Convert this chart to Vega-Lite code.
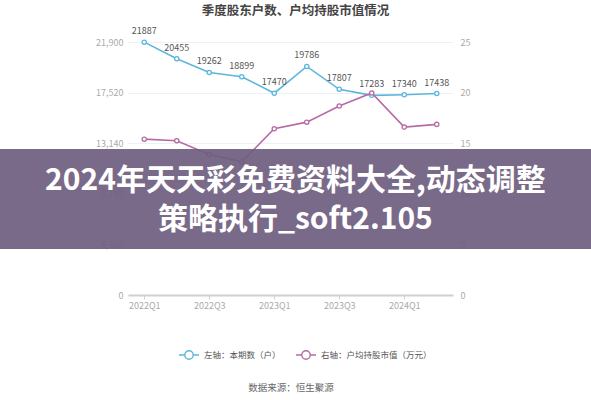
{
  "$schema": "https://vega.github.io/schema/vega-lite/v6.json",
  "width": 325,
  "height": 253,
  "autosize": "none",
  "padding": {"left": 128, "top": 42, "right": 138, "bottom": 105},
  "background": "white",
  "title": {
    "text": "季度股东户数、户均持股市值情况",
    "font": "Noto Sans CJK SC",
    "fontSize": 12.5,
    "fontWeight": "bold",
    "color": "#444444",
    "anchor": "middle",
    "frame": "group",
    "offset": 10,
    "dx": 5
  },
  "config": {
    "view": {"stroke": null},
    "font": "Noto Sans CJK SC",
    "axis": {"labelFont": "Noto Sans CJK SC", "titleFont": "Noto Sans CJK SC"},
    "legend": {"labelFont": "Noto Sans CJK SC"}
  },
  "datasets": {
    "quarters": [
      {"q": "2022Q1", "holders": 21887, "mv": 15.40},
      {"q": "2022Q2", "holders": 20455, "mv": 15.24},
      {"q": "2022Q3", "holders": 19262, "mv": 13.88},
      {"q": "2022Q4", "holders": 18899, "mv": 13.16},
      {"q": "2023Q1", "holders": 17470, "mv": 16.43},
      {"q": "2023Q2", "holders": 19786, "mv": 17.08},
      {"q": "2023Q3", "holders": 17807, "mv": 18.67},
      {"q": "2023Q4", "holders": 17283, "mv": 19.96},
      {"q": "2024Q1", "holders": 17340, "mv": 16.59},
      {"q": "2024Q2", "holders": 17438, "mv": 16.86}
    ],
    "banner": [
      {"left": -0.4, "right": 1.43, "bottom": 0.182, "top": 0.577}
    ],
    "bannerText": [
      {"line": "2024年天天彩免费资料大全,动态调整", "cx": 0.515, "cy": 0.45},
      {"line": "策略执行_soft2.105", "cx": 0.515, "cy": 0.298}
    ]
  },
  "layer": [
    {
      "data": {"name": "quarters"},
      "encoding": {
        "x": {
          "field": "q",
          "type": "ordinal",
          "sort": null,
          "scale": {"type": "point", "padding": 0.5},
          "axis": {
            "values": ["2022Q1", "2022Q3", "2023Q1", "2023Q3", "2024Q1"],
            "labelAngle": 0,
            "labelColor": "#aaaaaa",
            "labelFontSize": 9,
            "labelPadding": 2,
            "domainColor": "#d0d0d0",
            "domainWidth": 2,
            "tickColor": "#d0d0d0",
            "tickSize": 4,
            "grid": false,
            "title": "数据来源：恒生聚源",
            "titleFontSize": 9.5,
            "titleFontWeight": "normal",
            "titleColor": "#666666",
            "titlePadding": 72
          }
        }
      },
      "layer": [
        {
          "encoding": {
            "y": {
              "field": "holders",
              "type": "quantitative",
              "scale": {"domain": [0, 21900], "nice": false, "zero": true},
              "axis": {
                "orient": "left",
                "values": [0, 4380, 8760, 13140, 17520, 21900],
                "labelExpr": "format(datum.value, ',')",
                "title": null,
                "domain": false,
                "ticks": false,
                "labelColor": "#aaaaaa",
                "labelFontSize": 9,
                "labelPadding": 5,
                "grid": true,
                "gridColor": "#edf1f5",
                "gridWidth": 1
              }
            }
          },
          "layer": [
            {
              "mark": {"type": "line", "strokeWidth": 1.6},
              "encoding": {
                "color": {
                  "datum": "左轴：本期数（户）",
                  "type": "nominal",
                  "scale": {
                    "domain": ["左轴：本期数（户）", "右轴：户均持股市值（万元）"],
                    "range": ["#5cb6dc", "#b76ba3"]
                  },
                  "legend": {
                    "title": null,
                    "orient": "none",
                    "direction": "horizontal",
                    "legendX": 50,
                    "legendY": 302,
                    "labelFontSize": 8.5,
                    "labelColor": "#555555",
                    "columnPadding": 12,
                    "symbolType": "M-1,0H-0.42M0.42,0H1M0.42,0A0.42,0.42,0,1,1,-0.42,0A0.42,0.42,0,1,1,0.42,0",
                    "symbolSize": 400,
                    "symbolStrokeWidth": 1.4,
                    "symbolFillColor": "white"
                  }
                }
              }
            },
            {
              "mark": {"type": "point", "filled": false, "fill": "white", "size": 18, "strokeWidth": 1.3, "opacity": 1},
              "encoding": {"color": {"datum": "左轴：本期数（户）", "type": "nominal"}}
            },
            {
              "mark": {"type": "text", "dy": -11, "fontSize": 9, "color": "#555555"},
              "encoding": {"text": {"field": "holders", "type": "quantitative", "format": "d"}}
            }
          ]
        },
        {
          "encoding": {
            "y": {
              "field": "mv",
              "type": "quantitative",
              "scale": {"domain": [0, 25], "nice": false, "zero": true},
              "axis": {
                "orient": "right",
                "values": [0, 5, 10, 15, 20, 25],
                "title": null,
                "domain": false,
                "ticks": false,
                "labelColor": "#aaaaaa",
                "labelFontSize": 9,
                "labelPadding": 7,
                "grid": false
              }
            }
          },
          "layer": [
            {
              "mark": {"type": "line", "strokeWidth": 1.6},
              "encoding": {"color": {"datum": "右轴：户均持股市值（万元）", "type": "nominal"}}
            },
            {
              "mark": {"type": "point", "filled": false, "fill": "white", "size": 18, "strokeWidth": 1.3, "opacity": 1},
              "encoding": {"color": {"datum": "右轴：户均持股市值（万元）", "type": "nominal"}}
            }
          ]
        }
      ],
      "resolve": {"scale": {"y": "independent"}}
    },
    {
      "layer": [
        {
          "data": {"name": "banner"},
          "mark": {"type": "rect", "clip": false, "color": "#6f5d7f", "opacity": 0.92},
          "encoding": {
            "x": {"field": "left", "type": "quantitative", "scale": {"domain": [0, 1], "nice": false, "zero": false}, "axis": null},
            "x2": {"field": "right"},
            "y": {"field": "bottom", "type": "quantitative", "scale": {"domain": [0, 1], "nice": false, "zero": false}, "axis": null},
            "y2": {"field": "top"}
          }
        },
        {
          "data": {"name": "bannerText"},
          "mark": {"type": "text", "clip": false, "font": "Noto Sans CJK SC", "fontSize": 30, "fontWeight": "bold", "color": "white", "align": "center", "baseline": "middle"},
          "encoding": {
            "x": {"field": "cx", "type": "quantitative"},
            "y": {"field": "cy", "type": "quantitative"},
            "text": {"field": "line"}
          }
        }
      ]
    }
  ],
  "resolve": {"scale": {"x": "independent", "y": "independent", "color": "shared"}}
}
